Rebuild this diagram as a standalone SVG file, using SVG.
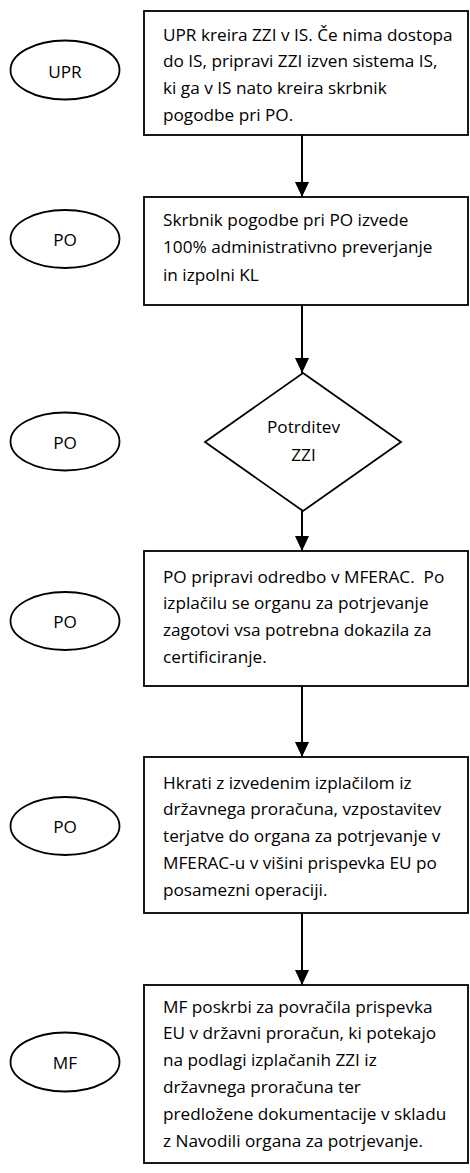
<svg xmlns="http://www.w3.org/2000/svg" width="470" height="1173" viewBox="0 0 470 1173">
  <style>
    .shape { fill: #ffffff; stroke: #000000; stroke-width: 1.8; }
    .txt { font-family: "Open Sans", Lato, "Liberation Sans", sans-serif; font-size: 17.2px; fill: #000000; white-space: pre; }
    .mid { text-anchor: middle; }
    .link { stroke: #000000; stroke-width: 2; fill: none; marker-end: url(#arrow); }
  </style>
  <defs>
    <!-- solid triangular arrowhead, tip at the end of the line -->
    <marker id="arrow" viewBox="0 0 15 14" refX="15" refY="7" markerWidth="15" markerHeight="14" markerUnits="userSpaceOnUse" orient="auto">
      <path d="M0,0 L15,7 L0,14 Z" fill="#000000"/>
    </marker>
  </defs>
  <rect width="470" height="1173" fill="#ffffff"/>

  <!-- role labels -->
  <g id="role-upr">
    <ellipse class="shape" cx="65" cy="70" rx="54.5" ry="29.5"/>
    <text class="txt mid" x="65" y="77.5">UPR</text>
  </g>
  <g id="role-po-1">
    <ellipse class="shape" cx="65" cy="239" rx="54.5" ry="29"/>
    <text class="txt mid" x="65" y="246">PO</text>
  </g>
  <g id="role-po-2">
    <ellipse class="shape" cx="65" cy="441.5" rx="54.5" ry="29"/>
    <text class="txt mid" x="65" y="448.5">PO</text>
  </g>
  <g id="role-po-3">
    <ellipse class="shape" cx="65" cy="621" rx="54.5" ry="29"/>
    <text class="txt mid" x="65" y="628">PO</text>
  </g>
  <g id="role-po-4">
    <ellipse class="shape" cx="65" cy="826" rx="54.5" ry="29"/>
    <text class="txt mid" x="65" y="833">PO</text>
  </g>
  <g id="role-mf">
    <ellipse class="shape" cx="65" cy="1062" rx="54.5" ry="29.5"/>
    <text class="txt mid" x="65" y="1069">MF</text>
  </g>

  <!-- process steps -->
  <g id="step-1">
    <rect class="shape" x="144" y="11" width="324" height="124"/>
    <text class="txt" x="163" y="40.5">UPR kreira ZZI v IS. Če nima dostopa</text>
    <text class="txt" x="163" y="67.3">do IS, pripravi ZZI izven sistema IS,</text>
    <text class="txt" x="163" y="94.1">ki ga v IS nato kreira skrbnik</text>
    <text class="txt" x="163" y="120.9">pogodbe pri PO.</text>
  </g>
  <g id="step-2">
    <rect class="shape" x="144" y="197" width="324" height="108"/>
    <text class="txt" x="163" y="225.5">Skrbnik pogodbe pri PO izvede</text>
    <text class="txt" x="163" y="253">100% administrativno preverjanje</text>
    <text class="txt" x="163" y="280.5">in izpolni KL</text>
  </g>
  <g id="step-3-decision">
    <polygon class="shape" points="303,373 401,442 303,511 205,442"/>
    <text class="txt mid" x="303.5" y="432.5">Potrditev</text>
    <text class="txt mid" x="303.5" y="460.5">ZZI</text>
  </g>
  <g id="step-4">
    <rect class="shape" x="144" y="551" width="324" height="135"/>
    <text class="txt" x="163" y="582.5" xml:space="preserve">PO pripravi odredbo v MFERAC.  Po</text>
    <text class="txt" x="163" y="609.3">izplačilu se organu za potrjevanje</text>
    <text class="txt" x="163" y="636.1">zagotovi vsa potrebna dokazila za</text>
    <text class="txt" x="163" y="662.9">certificiranje.</text>
  </g>
  <g id="step-5">
    <rect class="shape" x="144" y="757" width="324" height="156"/>
    <text class="txt" x="163" y="788.5">Hkrati z izvedenim izplačilom iz</text>
    <text class="txt" x="163" y="815.3">državnega proračuna, vzpostavitev</text>
    <text class="txt" x="163" y="842.1">terjatve do organa za potrjevanje v</text>
    <text class="txt" x="163" y="868.9">MFERAC-u v višini prispevka EU po</text>
    <text class="txt" x="163" y="895.7">posamezni operaciji.</text>
  </g>
  <g id="step-6">
    <rect class="shape" x="144" y="985" width="324" height="178"/>
    <text class="txt" x="163" y="1012.5">MF poskrbi za povračila prispevka</text>
    <text class="txt" x="163" y="1039.3">EU v državni proračun, ki potekajo</text>
    <text class="txt" x="163" y="1066.1">na podlagi izplačanih ZZI iz</text>
    <text class="txt" x="163" y="1092.9">državnega proračuna ter</text>
    <text class="txt" x="163" y="1119.7">predložene dokumentacije v skladu</text>
    <text class="txt" x="163" y="1146.5">z Navodili organa za potrjevanje.</text>
  </g>

  <!-- connectors -->
  <g id="connectors">
    <line class="link" x1="302" y1="135" x2="302" y2="197"/>
    <line class="link" x1="302" y1="305" x2="302" y2="373"/>
    <line class="link" x1="302" y1="511" x2="302" y2="551"/>
    <line class="link" x1="302" y1="686" x2="302" y2="757"/>
    <line class="link" x1="302" y1="913" x2="302" y2="985"/>
  </g>
</svg>
